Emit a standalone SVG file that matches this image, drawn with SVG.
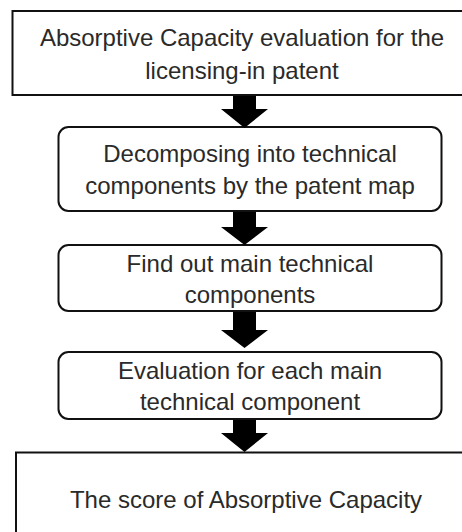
<svg xmlns="http://www.w3.org/2000/svg" width="462" height="532" viewBox="0 0 462 532">
<style>
.box{fill:#fff;stroke:#111;stroke-width:2}
.t{font-family:"Liberation Sans",Arial,sans-serif;font-size:24px;fill:#2a2a2a;text-anchor:middle}
.arr{fill:#000}
</style>
<rect width="462" height="532" fill="#fff"/>
<g id="n1">
<rect class="box" x="12.5" y="11" width="460" height="84"/>
<text class="t" x="242" y="46">Absorptive Capacity evaluation for the</text>
<text class="t" x="242" y="79">licensing-in patent</text>
</g>
<g id="n2">
<rect class="box" x="58.5" y="127" width="383" height="84" rx="10"/>
<text class="t" x="250" y="162">Decomposing into technical</text>
<text class="t" x="250" y="194">components by the patent map</text>
</g>
<g id="n3">
<rect class="box" x="58.5" y="245" width="383" height="66" rx="10"/>
<text class="t" x="250" y="272">Find out main technical</text>
<text class="t" x="250" y="303">components</text>
</g>
<g id="n4">
<rect class="box" x="58.5" y="352" width="383" height="67" rx="10"/>
<text class="t" x="250" y="379">Evaluation for each main</text>
<text class="t" x="250" y="410">technical component</text>
</g>
<g id="n5">
<rect class="box" x="16" y="452.5" width="460" height="90"/>
<text class="t" x="246" y="508">The score of Absorptive Capacity</text>
</g>
<g id="connectors">
<path class="arr" d="M233 96H256V109H268L244.5 128L221 109H233Z"/>
<path class="arr" d="M233 212H256V227H268L244.5 245L221 227H233Z"/>
<path class="arr" d="M233 312H256V330H268L244.5 348L221 330H233Z"/>
<path class="arr" d="M233 420H256V433H268L244.5 452L221 433H233Z"/>
</g>
</svg>
